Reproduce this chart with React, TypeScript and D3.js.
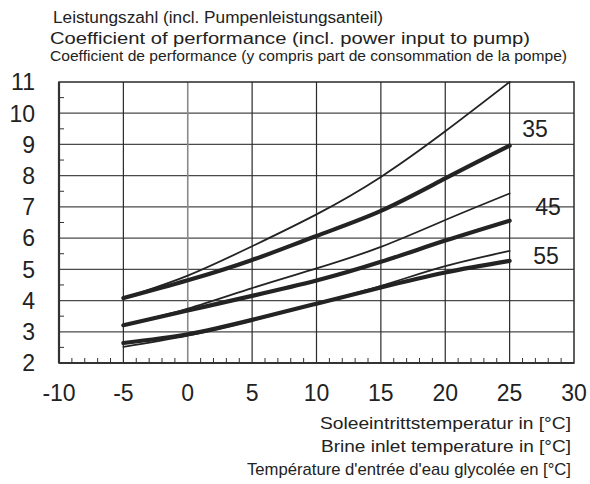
import React, { useEffect, useRef } from 'react';
import * as d3 from 'd3';

const temps = [-5, 0, 5, 10, 15, 20, 25];
const thin35 = [4.08, 4.8, 5.74, 6.76, 7.96, 9.42, 11.0];
const thick35 = [4.08, 4.65, 5.3, 6.07, 6.87, 7.91, 8.96];
const thin45 = [3.21, 3.74, 4.4, 5.03, 5.72, 6.58, 7.43];
const thick45 = [3.21, 3.68, 4.15, 4.64, 5.24, 5.92, 6.56];
const thin55 = [2.52, 2.88, 3.36, 3.9, 4.47, 5.1, 5.59];
const thick55 = [2.64, 2.92, 3.38, 3.9, 4.42, 4.9, 5.27];

const xTicks = [-10, -5, 0, 5, 10, 15, 20, 25, 30];
const yTicks = [2, 3, 4, 5, 6, 7, 8, 9, 10, 11];
const curveLabels = ['35', '45', '55'];
const labelValues = [9.5, 7.0, 5.45];

const titleLines = [
  'Leistungszahl (incl. Pumpenleistungsanteil)',
  'Coefficient of performance (incl. power input to pump)',
  'Coefficient de performance (y compris part de consommation de la pompe)',
];
const xTitleLines = [
  'Soleeintrittstemperatur in [°C]',
  'Brine inlet temperature in [°C]',
  "Température d'entrée d'eau glycolée en [°C]",
];

const App: React.FC = () => {
  const ref = useRef<SVGSVGElement>(null);

  useEffect(() => {
    if (!ref.current) return;
    const svg = d3.select(ref.current);
    svg.selectAll('*').remove();

    const left = 59, right = 574, top = 82, bottom = 363;
    const x = d3.scaleLinear().domain([-10, 30]).range([left, right]);
    const y = d3.scaleLinear().domain([2, 11]).range([bottom, top]);
    const font = 'Arial, "Liberation Sans", Helvetica, sans-serif';

    // horizontal grid
    svg.append('g')
      .selectAll('line')
      .data(yTicks.slice(1, -1))
      .join('line')
      .attr('x1', left).attr('x2', right)
      .attr('y1', d => y(d)).attr('y2', d => y(d))
      .attr('stroke', '#4a4a4a').attr('stroke-width', 1.2);

    // vertical grid
    svg.append('g')
      .selectAll('line')
      .data(xTicks.slice(1, -1))
      .join('line')
      .attr('x1', d => x(d)).attr('x2', d => x(d))
      .attr('y1', top).attr('y2', bottom)
      .attr('stroke', d => (d === 0 ? '#8a8a8a' : '#2a2a2a'))
      .attr('stroke-width', d => (d === 0 ? 1.6 : 1.2));

    // minor ticks
    const yMinor = d3.range(2.5, 11, 1);
    svg.append('g')
      .selectAll('line')
      .data(yMinor)
      .join('line')
      .attr('x1', left).attr('x2', left + 5)
      .attr('y1', d => y(d)).attr('y2', d => y(d))
      .attr('stroke', '#333').attr('stroke-width', 1);
    const xMinor = d3.range(-9, 30, 1).filter(d => d % 5 !== 0);
    svg.append('g')
      .selectAll('line')
      .data(xMinor)
      .join('line')
      .attr('x1', d => x(d)).attr('x2', d => x(d))
      .attr('y1', bottom).attr('y2', bottom - 5)
      .attr('stroke', '#333').attr('stroke-width', 1);

    // frame
    svg.append('rect')
      .attr('x', left).attr('y', top)
      .attr('width', right - left).attr('height', bottom - top)
      .attr('fill', 'none').attr('stroke', '#2a2a2a').attr('stroke-width', 1.5);
    svg.append('line')
      .attr('x1', left).attr('x2', left).attr('y1', top).attr('y2', bottom)
      .attr('stroke', '#333').attr('stroke-width', 2.2);
    svg.append('line')
      .attr('x1', left).attr('x2', right).attr('y1', bottom).attr('y2', bottom)
      .attr('stroke', '#333').attr('stroke-width', 2.2);

    // curves
    const line = d3.line<number>()
      .x((_, i) => x(temps[i]))
      .y(d => y(d))
      .curve(d3.curveNatural);

    const series = [
      { v: thin35, w: 1.8 },
      { v: thin45, w: 1.8 },
      { v: thin55, w: 1.8 },
      { v: thick35, w: 4.2 },
      { v: thick45, w: 4.2 },
      { v: thick55, w: 4.2 },
    ];
    series.forEach(s => {
      svg.append('path')
        .attr('d', line(s.v))
        .attr('fill', 'none')
        .attr('stroke', '#232323')
        .attr('stroke-width', s.w)
        .attr('stroke-linecap', 'round');
    });

    // axis tick labels
    svg.append('g')
      .selectAll('text')
      .data(yTicks)
      .join('text')
      .attr('x', 35)
      .attr('y', d => y(d))
      .attr('dy', '0.36em')
      .attr('text-anchor', 'end')
      .style('font-family', font)
      .style('font-size', '23px')
      .style('fill', '#222')
      .text(d => d);

    svg.append('g')
      .selectAll('text')
      .data(xTicks)
      .join('text')
      .attr('x', d => x(d))
      .attr('y', 401)
      .attr('text-anchor', 'middle')
      .style('font-family', font)
      .style('font-size', '23px')
      .style('fill', '#222')
      .text(d => d);

    // curve labels
    svg.append('g')
      .selectAll('text')
      .data(curveLabels)
      .join('text')
      .attr('x', (_, i) => [535, 548, 546][i])
      .attr('y', (_, i) => y(labelValues[i]))
      .attr('dy', '0.36em')
      .attr('text-anchor', 'middle')
      .style('font-family', font)
      .style('font-size', '23px')
      .style('fill', '#222')
      .text(d => d);

    // titles
    const titleY = [23, 44, 61];
    const titleX = [53, 50, 50];
    const titleLen = [330, 480, 517];
    titleLines.forEach((t, i) => {
      svg.append('text')
        .attr('x', titleX[i])
        .attr('y', titleY[i])
        .attr('textLength', titleLen[i])
        .attr('lengthAdjust', 'spacingAndGlyphs')
        .style('font-family', i === 2 ? '"Liberation Sans Narrow", "Arial Narrow", Arial, sans-serif' : font)
        .style('font-size', i === 2 ? '14px' : '16px')
        .style('fill', '#222')
        .text(t);
    });

    const xTitleLen = [251, 250, 324];
    xTitleLines.forEach((t, i) => {
      svg.append('text')
        .attr('x', 571 - xTitleLen[i])
        .attr('y', 429 + i * 23)
        .attr('textLength', xTitleLen[i])
        .attr('lengthAdjust', 'spacingAndGlyphs')
        .style('font-family', font)
        .style('font-size', '17px')
        .style('fill', '#222')
        .text(t);
    });
  }, []);

  return (
    <div style={{ position: 'absolute', left: 0, top: 0, background: '#fff' }}>
      <svg ref={ref} width={590} height={484} />
    </div>
  );
};

export default App;
